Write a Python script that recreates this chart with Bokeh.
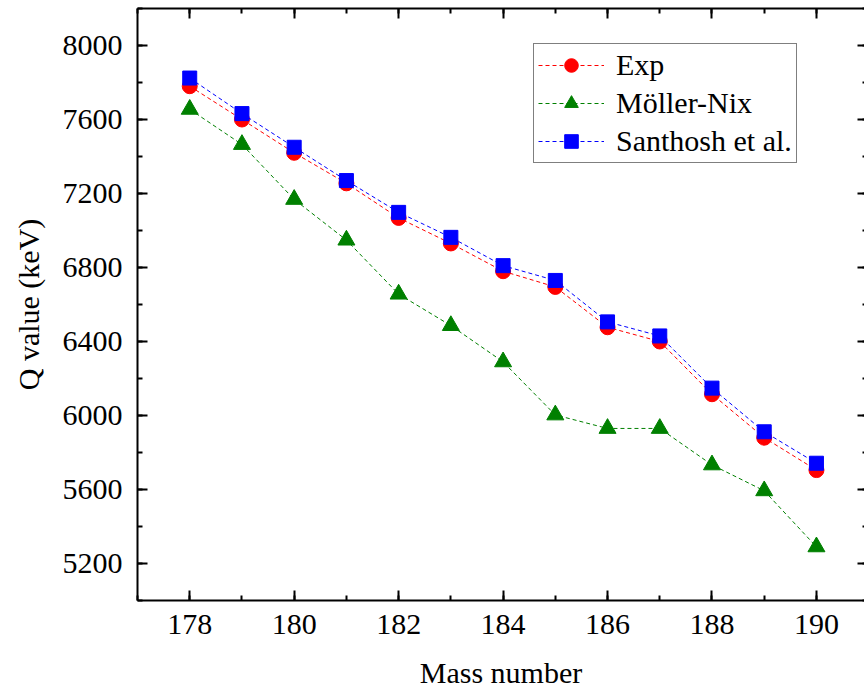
from bokeh.plotting import figure
from bokeh.models import (Range1d, LinearAxis, SingleIntervalTicker, Legend, LegendItem)
from bokeh.embed import file_html
from bokeh.resources import INLINE

mass = [178, 179, 180, 181, 182, 183, 184, 185, 186, 187, 188, 189, 190]
q_exp = [7780, 7600, 7420, 7255, 7068, 6930, 6780, 6695, 6477, 6400, 6115, 5880, 5705]
q_moller_nix = [7655, 7465, 7168, 6948, 6656, 6486, 6290, 6003, 5930, 5930, 5733, 5593, 5290]
q_santhosh = [7824, 7632, 7450, 7270, 7098, 6963, 6810, 6730, 6506, 6430, 6148, 5912, 5742]
series_names = ["Exp", "Möller-Nix", "Santhosh et al."]

FONT = "'Liberation Serif', 'Times New Roman', 'DejaVu Serif', serif"

p = figure(width=864, height=695, output_backend="svg", toolbar_location=None,
           x_range=Range1d(177.0, 190.92), y_range=Range1d(5000, 8200),
           x_axis_location=None, y_axis_location=None,
           min_border_left=137, min_border_right=0, min_border_top=8, min_border_bottom=95)
p.outline_line_color = None
p.xgrid.visible = False
p.ygrid.visible = False
p.background_fill_color = "white"
p.border_fill_color = "white"


def style_axis(ax, labels=True):
    ax.axis_line_width = 2
    ax.axis_line_color = "black"
    ax.major_tick_line_width = 2
    ax.minor_tick_line_width = 2
    ax.major_tick_line_color = "black"
    ax.minor_tick_line_color = "black"
    ax.major_tick_in = 10
    ax.major_tick_out = 0
    ax.minor_tick_in = 5
    ax.minor_tick_out = 0
    ax.major_label_text_font = FONT
    ax.major_label_text_color = "black"
    ax.axis_label_text_font = FONT
    ax.axis_label_text_font_style = "normal"
    ax.axis_label_text_color = "black"
    ax.axis_label_text_font_size = "30px"
    if labels:
        ax.major_label_text_font_size = "30px"
    else:
        ax.major_label_text_font_size = "1px"
        ax.major_label_text_alpha = 0
        ax.major_label_text_color = None
        ax.major_label_standoff = 0


xt = SingleIntervalTicker(interval=2, num_minor_ticks=2)
yt = SingleIntervalTicker(interval=400, num_minor_ticks=2)

xb = LinearAxis(ticker=xt, axis_label="Mass number")
style_axis(xb)
xb.major_label_standoff = 14
xb.axis_label_standoff = 19
p.add_layout(xb, "below")

yl = LinearAxis(ticker=yt, axis_label="Q value (keV)")
style_axis(yl)
yl.major_label_standoff = 15
yl.axis_label_standoff = 15
p.add_layout(yl, "left")

xtop = LinearAxis(ticker=xt)
style_axis(xtop, labels=False)
p.add_layout(xtop, "above")

yr = LinearAxis(ticker=yt)
style_axis(yr, labels=False)
yr.axis_line_alpha = 0
yr.major_tick_in = 7
yr.minor_tick_in = 2
p.add_layout(yr, "right")

dash = "4 3"
r1l = p.line(mass, q_exp, line_color="red", line_width=1, line_dash=dash)
r1m = p.scatter(mass, q_exp, marker="circle", size=15, fill_color="red", line_color="red")
r2l = p.line(mass, q_moller_nix, line_color="green", line_width=1, line_dash=dash)
r2m = p.scatter(mass, q_moller_nix, marker="triangle", size=17, fill_color="green", line_color="green")
r3l = p.line(mass, q_santhosh, line_color="blue", line_width=1, line_dash=dash)
r3m = p.scatter(mass, q_santhosh, marker="square", size=14, fill_color="blue", line_color="blue")

legend = Legend(items=[
    LegendItem(label=series_names[0], renderers=[r1l, r1m]),
    LegendItem(label=series_names[1], renderers=[r2l, r2m]),
    LegendItem(label=series_names[2], renderers=[r3l, r3m]),
], location=(396, 437))
legend.border_line_color = "black"
legend.border_line_width = 1
legend.background_fill_color = "white"
legend.background_fill_alpha = 1
legend.label_text_font = FONT
legend.label_text_font_size = "30px"
legend.label_text_color = "black"
legend.glyph_width = 66
legend.glyph_height = 34
legend.label_height = 34
legend.label_standoff = 12
legend.spacing = 4
legend.padding = 4
legend.margin = 0
p.add_layout(legend, "center")

open("out.html", "w").write(file_html(p, INLINE))
